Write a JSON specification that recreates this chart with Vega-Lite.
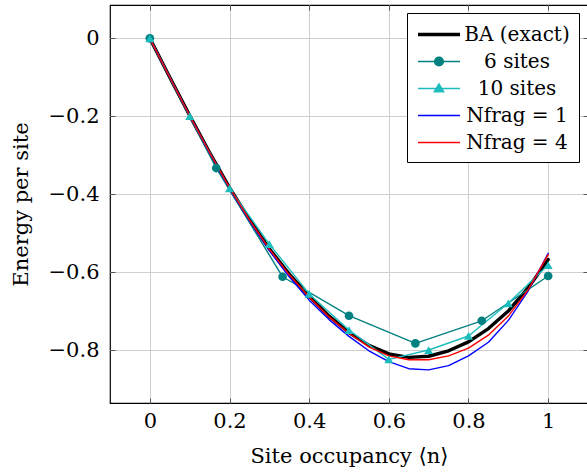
{
  "$schema": "https://vega.github.io/schema/vega-lite/v6.json",
  "width": 478,
  "height": 398,
  "autosize": {"type": "none"},
  "padding": {"left": 110, "top": 5, "right": 0, "bottom": 71},
  "background": "white",
  "config": {
    "view": {"stroke": "black", "strokeWidth": 1.2},
    "font": "DejaVu Serif",
    "axis": {
      "labelFont": "DejaVu Serif",
      "labelFontSize": 21,
      "labelColor": "black",
      "titleFont": "DejaVu Serif",
      "titleFontSize": 21,
      "titleFontWeight": "normal",
      "titleColor": "black",
      "grid": true,
      "gridColor": "#cfcfcf",
      "gridWidth": 1,
      "domain": false,
      "tickColor": "#555555",
      "tickSize": -5,
      "tickWidth": 1,
      "format": "~g"
    }
  },
  "resolve": {"axis": {"x": "independent", "y": "independent"}},
  "data": {
    "values": [
      {"series": "BA (exact)", "x": 0, "y": 0},
      {"series": "BA (exact)", "x": 0.05, "y": -0.1},
      {"series": "BA (exact)", "x": 0.1, "y": -0.198},
      {"series": "BA (exact)", "x": 0.15, "y": -0.293},
      {"series": "BA (exact)", "x": 0.2, "y": -0.383},
      {"series": "BA (exact)", "x": 0.25, "y": -0.465},
      {"series": "BA (exact)", "x": 0.3, "y": -0.54},
      {"series": "BA (exact)", "x": 0.35, "y": -0.605},
      {"series": "BA (exact)", "x": 0.4, "y": -0.662},
      {"series": "BA (exact)", "x": 0.45, "y": -0.713},
      {"series": "BA (exact)", "x": 0.5, "y": -0.755},
      {"series": "BA (exact)", "x": 0.55, "y": -0.788},
      {"series": "BA (exact)", "x": 0.6, "y": -0.81},
      {"series": "BA (exact)", "x": 0.65, "y": -0.819},
      {"series": "BA (exact)", "x": 0.7, "y": -0.816},
      {"series": "BA (exact)", "x": 0.75, "y": -0.802},
      {"series": "BA (exact)", "x": 0.8, "y": -0.779},
      {"series": "BA (exact)", "x": 0.85, "y": -0.745},
      {"series": "BA (exact)", "x": 0.9, "y": -0.7},
      {"series": "BA (exact)", "x": 0.95, "y": -0.64},
      {"series": "BA (exact)", "x": 1.0, "y": -0.568},
      {"series": "6 sites", "x": 0, "y": 0},
      {"series": "6 sites", "x": 0.1667, "y": -0.333},
      {"series": "6 sites", "x": 0.3333, "y": -0.612},
      {"series": "6 sites", "x": 0.5, "y": -0.712},
      {"series": "6 sites", "x": 0.6667, "y": -0.783},
      {"series": "6 sites", "x": 0.8333, "y": -0.725},
      {"series": "6 sites", "x": 1.0, "y": -0.61},
      {"series": "10 sites", "x": 0, "y": 0},
      {"series": "10 sites", "x": 0.1, "y": -0.2},
      {"series": "10 sites", "x": 0.2, "y": -0.385},
      {"series": "10 sites", "x": 0.3, "y": -0.528},
      {"series": "10 sites", "x": 0.4, "y": -0.656},
      {"series": "10 sites", "x": 0.5, "y": -0.749},
      {"series": "10 sites", "x": 0.6, "y": -0.824},
      {"series": "10 sites", "x": 0.7, "y": -0.8},
      {"series": "10 sites", "x": 0.8, "y": -0.764},
      {"series": "10 sites", "x": 0.9, "y": -0.68},
      {"series": "10 sites", "x": 1.0, "y": -0.582},
      {"series": "Nfrag = 1", "x": 0, "y": 0},
      {"series": "Nfrag = 1", "x": 0.05, "y": -0.1},
      {"series": "Nfrag = 1", "x": 0.1, "y": -0.198},
      {"series": "Nfrag = 1", "x": 0.15, "y": -0.294},
      {"series": "Nfrag = 1", "x": 0.2, "y": -0.385},
      {"series": "Nfrag = 1", "x": 0.25, "y": -0.468},
      {"series": "Nfrag = 1", "x": 0.3, "y": -0.545},
      {"series": "Nfrag = 1", "x": 0.35, "y": -0.612},
      {"series": "Nfrag = 1", "x": 0.4, "y": -0.672},
      {"series": "Nfrag = 1", "x": 0.45, "y": -0.722},
      {"series": "Nfrag = 1", "x": 0.5, "y": -0.765},
      {"series": "Nfrag = 1", "x": 0.55, "y": -0.802},
      {"series": "Nfrag = 1", "x": 0.6, "y": -0.83},
      {"series": "Nfrag = 1", "x": 0.65, "y": -0.848},
      {"series": "Nfrag = 1", "x": 0.7, "y": -0.851},
      {"series": "Nfrag = 1", "x": 0.75, "y": -0.84},
      {"series": "Nfrag = 1", "x": 0.8, "y": -0.815},
      {"series": "Nfrag = 1", "x": 0.85, "y": -0.78},
      {"series": "Nfrag = 1", "x": 0.9, "y": -0.724},
      {"series": "Nfrag = 1", "x": 0.95, "y": -0.648},
      {"series": "Nfrag = 1", "x": 1.0, "y": -0.552},
      {"series": "Nfrag = 4", "x": 0, "y": 0},
      {"series": "Nfrag = 4", "x": 0.05, "y": -0.1},
      {"series": "Nfrag = 4", "x": 0.1, "y": -0.198},
      {"series": "Nfrag = 4", "x": 0.15, "y": -0.293},
      {"series": "Nfrag = 4", "x": 0.2, "y": -0.383},
      {"series": "Nfrag = 4", "x": 0.25, "y": -0.466},
      {"series": "Nfrag = 4", "x": 0.3, "y": -0.541},
      {"series": "Nfrag = 4", "x": 0.35, "y": -0.607},
      {"series": "Nfrag = 4", "x": 0.4, "y": -0.664},
      {"series": "Nfrag = 4", "x": 0.45, "y": -0.715},
      {"series": "Nfrag = 4", "x": 0.5, "y": -0.757},
      {"series": "Nfrag = 4", "x": 0.55, "y": -0.792},
      {"series": "Nfrag = 4", "x": 0.6, "y": -0.815},
      {"series": "Nfrag = 4", "x": 0.65, "y": -0.825},
      {"series": "Nfrag = 4", "x": 0.7, "y": -0.825},
      {"series": "Nfrag = 4", "x": 0.75, "y": -0.815},
      {"series": "Nfrag = 4", "x": 0.8, "y": -0.795},
      {"series": "Nfrag = 4", "x": 0.85, "y": -0.762},
      {"series": "Nfrag = 4", "x": 0.9, "y": -0.713},
      {"series": "Nfrag = 4", "x": 0.95, "y": -0.645},
      {"series": "Nfrag = 4", "x": 1.0, "y": -0.555}
    ]
  },
  "encoding": {
    "x": {
      "field": "x", "type": "quantitative",
      "scale": {"domain": [-0.1, 1.1], "nice": false, "zero": false},
      "axis": {"values": [0, 0.2, 0.4, 0.6, 0.8, 1], "title": "Site occupancy ⟨n⟩", "labelPadding": 12, "titlePadding": 14, "labelFlush": false}
    },
    "y": {
      "field": "y", "type": "quantitative",
      "scale": {"domain": [-0.936, 0.0855], "nice": false, "zero": false},
      "axis": {"values": [-0.8, -0.6, -0.4, -0.2, 0], "title": "Energy per site", "labelPadding": 16, "titlePadding": 17, "labelFlush": false}
    },
    "color": {
      "field": "series", "type": "nominal",
      "scale": {"domain": ["BA (exact)", "6 sites", "10 sites", "Nfrag = 1", "Nfrag = 4"], "range": ["#000000", "#008080", "#1cbcbc", "#0000ff", "#ff0000"]},
      "legend": {
        "title": null,
        "orient": "none",
        "legendX": 297,
        "legendY": 8,
        "strokeColor": "black",
        "fillColor": "white",
        "padding": 9,
        "cornerRadius": 0,
        "symbolSize": 441,
        "rowPadding": 5,
        "labelFont": "DejaVu Serif",
        "labelFontSize": 20,
        "labelColor": "black",
        "labelAlign": "center",
        "labelOffset": 76,
        "labelLimit": 300,
        "symbolOpacity": 1,
        "encode": {"symbols": {"update": {"fill": {"scale": "color", "field": "value"}, "stroke": {"scale": "color", "field": "value"}}}}
      }
    },
    "strokeWidth": {
      "field": "series", "type": "nominal",
      "scale": {"type": "ordinal", "domain": ["BA (exact)", "6 sites", "10 sites", "Nfrag = 1", "Nfrag = 4"], "range": [3.4, 1.4, 1.4, 1.4, 1.4]}
    }
  },
  "layer": [
    {
      "mark": {"type": "line", "strokeCap": "round", "strokeJoin": "round"},
      "encoding": {"order": {"field": "x", "type": "quantitative"}}
    },
    {
      "transform": [{"filter": "datum.series === '6 sites'"}],
      "mark": {"type": "point", "shape": "circle", "filled": true, "opacity": 1, "size": 75},
      "encoding": {
        "x": {"field": "x", "type": "quantitative", "axis": null},
        "y": {"field": "y", "type": "quantitative", "axis": null}
      }
    },
    {
      "transform": [{"filter": "datum.series === '10 sites'"}],
      "mark": {"type": "point", "shape": "triangle-up", "filled": true, "opacity": 1, "size": 80},
      "encoding": {
        "x": {"field": "x", "type": "quantitative", "axis": null},
        "y": {"field": "y", "type": "quantitative", "axis": null}
      }
    },
    {
      "transform": [{"filter": "false"}],
      "mark": {"type": "point", "filled": false},
      "encoding": {
        "x": {"field": "x", "type": "quantitative", "axis": {"orient": "top", "values": [0, 0.2, 0.4, 0.6, 0.8, 1], "labels": false, "title": null, "grid": false}},
        "y": {"field": "y", "type": "quantitative", "axis": {"orient": "right", "values": [-0.8, -0.6, -0.4, -0.2, 0], "labels": false, "title": null, "grid": false}},
        "shape": {"field": "series", "type": "nominal",
          "scale": {"domain": ["BA (exact)", "6 sites", "10 sites", "Nfrag = 1", "Nfrag = 4"],
            "range": ["M-1,0H3", "M-1,0H3M1.42,0A0.42,0.42 0 1 1 0.58,0A0.42,0.42 0 1 1 1.42,0", "M-1,0H3M1,-0.45L1.45,0.32L0.55,0.32Z", "M-1,0H3", "M-1,0H3"]}
        }
      }
    }
  ]
}
